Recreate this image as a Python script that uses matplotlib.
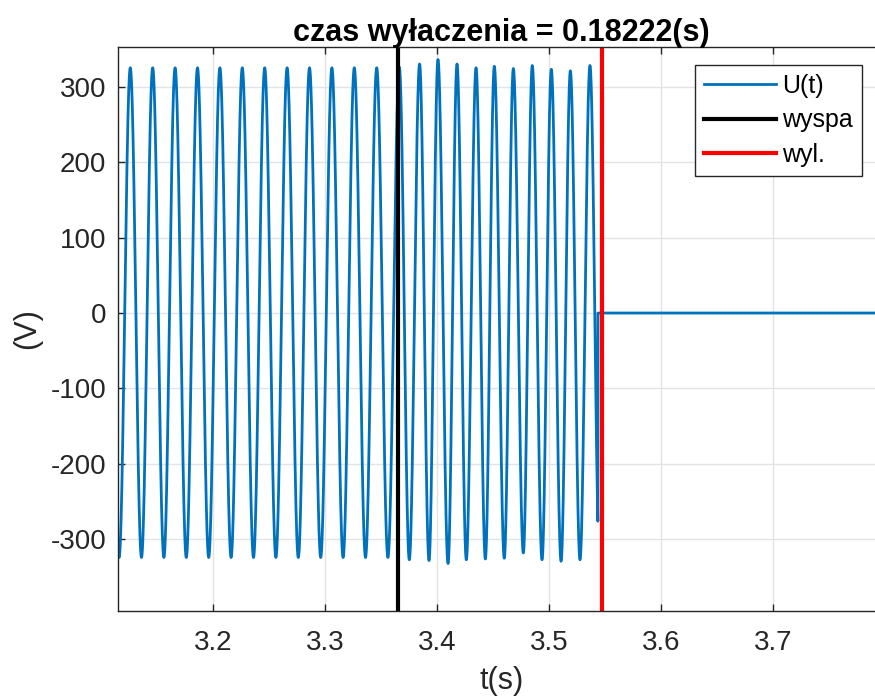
import matplotlib.pyplot as plt
import numpy as np

plt.rcParams['font.family'] = ['Liberation Sans', 'DejaVu Sans']
plt.rcParams['axes.unicode_minus'] = False

# islanding and breaker trip instants (s)
t_island = 3.3647
t_off = 0.18222
t_trip = t_island + t_off

# extrema of U(t): 50 Hz grid before islanding, ~59 Hz island afterwards
ext_t = [3.1159, 3.1259, 3.1359, 3.1459, 3.1559, 3.1659, 3.1759, 3.1859,
         3.1959, 3.2059, 3.2159, 3.2259, 3.2359, 3.2459, 3.2559, 3.2659,
         3.2759, 3.2859, 3.2959, 3.3059, 3.3159, 3.3259, 3.3359, 3.3459,
         3.3559, 3.3661, 3.3750, 3.3842, 3.3926, 3.4006, 3.4096, 3.4176,
         3.4259, 3.4346, 3.4429, 3.4509, 3.4598, 3.4679, 3.4768, 3.4848,
         3.4935, 3.5018, 3.5105, 3.5188, 3.5274, 3.5363, 3.5449]
ext_v = [-324, 325, -324, 325, -324, 325, -324, 325,
         -324, 325, -324, 325, -324, 325, -324, 325,
         -324, 325, -324, 325, -324, 325, -324, 325,
         -324, 326, -327, 330, -328, 336, -332, 330,
         -327, 325, -326, 327, -325, 324, -318, 328,
         -327, 323, -329, 321, -327, 328, -325]

# inverter output cut off here, voltage stays at zero
t_cut = 3.5434
t_start, t_end = 3.1145, 3.80

t = np.arange(t_start, t_end, 2e-5)
et = np.array(ext_t)
ev = np.array(ext_v)
i = np.clip(np.searchsorted(et, t, side='right') - 1, 0, len(et) - 2)
t0, t1 = et[i], et[i + 1]
v0, v1 = ev[i], ev[i + 1]
u = (v0 + v1) / 2 + (v0 - v1) / 2 * np.cos(np.pi * (t - t0) / (t1 - t0))
u[t > t_cut] = 0.0

axc = '#262626'
fig = plt.figure(figsize=(8.75, 6.98), dpi=100)
ax = fig.add_axes([0.1343, 0.1246, 0.8775, 0.8085])

ax.plot(t, u, color='#0072BD', lw=2.0, label='U(t)')
ax.axvline(t_island, color='black', lw=3.0, label='wyspa')
ax.axvline(t_trip, color='red', lw=3.0, label='wyl.')

ax.set_xlim(t_start, t_end)
ax.set_ylim(-395, 353)
ax.set_xticks([3.2, 3.3, 3.4, 3.5, 3.6, 3.7])
ax.set_yticks([-300, -200, -100, 0, 100, 200, 300])
ax.grid(True, color='#e3e3e3', lw=1.0)
ax.set_axisbelow(True)

for s in ax.spines.values():
    s.set_color(axc)
    s.set_linewidth(1.0)
ax.tick_params(direction='in', length=5, width=1.0, colors=axc,
               top=True, right=True, labelsize=20)
ax.tick_params(axis='x', pad=14)
ax.tick_params(axis='y', pad=8)

ax.set_xlabel('t(s)', fontsize=22, color=axc, labelpad=7)
ax.set_ylabel('(V)', fontsize=22, color=axc, labelpad=6)
ax.set_title(f'czas wyłaczenia = {t_off:.5f}(s)', fontsize=22,
             fontweight='bold', pad=4)

leg = ax.legend(loc='upper right', bbox_to_anchor=(862 / 875, 1 - 65 / 698),
                bbox_transform=fig.transFigure, borderaxespad=0,
                fontsize=18, fancybox=False, framealpha=1,
                edgecolor=axc, handlelength=2.9, handletextpad=0.25,
                labelspacing=0.42, borderpad=0.35)
leg.get_frame().set_linewidth(1.0)

fig.savefig('out.png', dpi=100)
